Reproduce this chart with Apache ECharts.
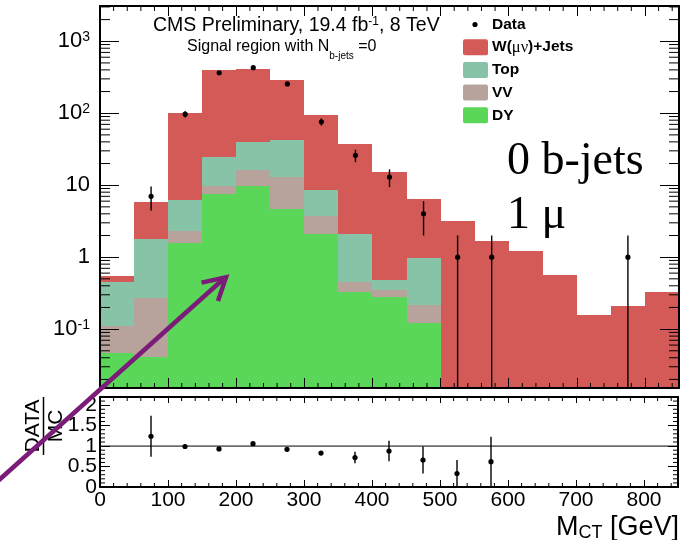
<!DOCTYPE html>
<html>
<head>
<meta charset="utf-8">
<script src="https://cdn.jsdelivr.net/npm/echarts@6/dist/echarts.min.js"></script>
<style>
  html, body { margin: 0; padding: 0; background: #ffffff; }
  #chart { width: 681px; height: 540px; }
</style>
</head>
<body>
<div id="chart"></div>
<script>
// M_CT bin edges in GeV (17 bins of 50 GeV)
const binEdges = [0, 50, 100, 150, 200, 250, 300, 350, 400, 450, 500, 550, 600, 650, 700, 750, 800, 850];

// Expected yields per bin, stacked bottom to top: DY, VV, Top, W(mu nu)+Jets
const dyYield    = [0.046, 0.041, 1.55, 7.57, 9.87, 4.64, 2.11, 0.327, 0.278, 0.120, 0, 0, 0, 0, 0, 0, 0];
const vvYield    = [0.065, 0.229, 0.77, 2.30, 6.63, 8.16, 1.67, 0.131, 0.073, 0.096, 0, 0, 0, 0, 0, 0, 0];
const topYield   = [0.339, 1.51, 3.93, 14.8, 23.8, 29.8, 4.91, 1.65, 0.133, 0.762, 0, 0, 0, 0, 0, 0, 0];
const wjetsYield = [0.100, 4.03, 93.8, 380, 372, 244, 86.0, 35.0, 14.9, 5.41, 3.22, 1.70, 1.22, 0.562, 0.155, 0.211, 0.330];

// Observed events and their uncertainties (null = empty bin)
const dataCounts = [null, 7, 97, 365, 430, 255, 76, 26, 13, 4, 1, 1, null, null, null, 1, null];
const dataErr    = [null, 2.6, 9.8, 19, 21, 16, 8.7, 5.1, 3.6, 2.0, 1.0, 1.0, null, null, null, 1.0, null];

// DATA / MC ratio and its uncertainty
const ratioVals = [null, 1.24, 0.99, 0.93, 1.06, 0.92, 0.83, 0.72, 0.88, 0.66, 0.33, 0.62, null, null, null, null, null];
const ratioErr  = [null, 0.50, 0.06, 0.03, 0.03, 0.03, 0.05, 0.14, 0.25, 0.33, 0.33, 0.61, null, null, null, null, null];

// Tick labels
const xTickLabels = ['0', '100', '200', '300', '400', '500', '600', '700', '800'];
const ratioTickLabels = ['0', '0.5', '1', '1.5', '2'];
const logTickExponents = [-1, 0, 1, 2, 3];

const FONT = '"Liberation Sans", Arial, Helvetica, sans-serif';
const SERIF = '"Liberation Serif", "Times New Roman", serif';
const yMin = 0.0152, yMax = 3090;
const xMin = 0, xMax = 850;
const rMin = 0, rMax = 2.2;

const layers = [
  { name: 'DY', values: dyYield, color: '#5ad658' },
  { name: 'VV', values: vvYield, color: '#b7a39b' },
  { name: 'Top', values: topYield, color: '#87c3a7' },
  { name: 'W(μν)+Jets', values: wjetsYield, color: '#d45a57' }
];

// Stack the backgrounds bin by bin
const running = binEdges.slice(0, -1).map(() => 0);
const stackSeries = layers.map(layer => {
  const items = layer.values.map((v, i) => {
    const b = running[i];
    const t = b + v;
    running[i] = t;
    return [binEdges[i], binEdges[i + 1], b, t];
  });
  return {
    type: 'custom', name: layer.name, xAxisIndex: 0, yAxisIndex: 0, z: 2,
    silent: true, animation: false,
    encode: { x: [0, 1], y: [3] },
    data: items,
    renderItem: (params, api) => {
      const lo = api.value(0), hi = api.value(1), b = api.value(2), t = api.value(3);
      if (!(t > b) || t <= yMin) return;
      const p0 = api.coord([lo, Math.min(t, yMax)]);
      const p1 = api.coord([hi, Math.max(b, yMin)]);
      // snap to whole pixels so neighbouring bins and layers meet without seams
      const x0 = Math.round(p0[0]), x1 = Math.round(p1[0]);
      const y0 = Math.round(p0[1]), y1 = Math.round(p1[1]);
      return {
        type: 'rect',
        shape: { x: x0, y: y0, width: x1 - x0, height: y1 - y0 },
        style: { fill: layer.color }
      };
    }
  };
});

function pointsWithErrors(vals, errs, lowClamp, highClamp, xIdx, yIdx) {
  const items = [];
  vals.forEach((v, i) => {
    if (v == null) return;
    items.push([(binEdges[i] + binEdges[i + 1]) / 2, v, errs[i]]);
  });
  return {
    type: 'custom', xAxisIndex: xIdx, yAxisIndex: yIdx, z: 8,
    silent: true, animation: false,
    encode: { x: 0, y: 1 },
    data: items,
    renderItem: (params, api) => {
      const x = api.value(0), v = api.value(1), e = api.value(2);
      const c = api.coord([x, v]);
      const up = api.coord([x, Math.min(v + e, highClamp)]);
      const dn = api.coord([x, Math.max(v - e, lowClamp)]);
      return {
        type: 'group',
        children: [
          { type: 'line', shape: { x1: c[0], y1: up[1], x2: c[0], y2: dn[1] }, style: { stroke: '#000', lineWidth: 1.4 } },
          { type: 'circle', shape: { cx: c[0], cy: c[1], r: 2.6 }, style: { fill: '#000' } }
        ]
      };
    }
  };
}

// Minor tick marks drawn on all four sides of a panel
function minorTickSeries(xIdx, yIdx, xVals, yVals, lenX, lenY, xRef, yRef) {
  const data = xVals.map(v => [0, v]).concat(yVals.map(v => [1, v]));
  return {
    type: 'custom', xAxisIndex: xIdx, yAxisIndex: yIdx, z: 7,
    silent: true, animation: false,
    data: data,
    renderItem: (params, api) => {
      const kind = api.value(0), v = api.value(1);
      const cs = params.coordSys;
      const st = { stroke: '#000', lineWidth: 1 };
      if (kind === 0) {
        const px = api.coord([v, yRef])[0];
        return { type: 'group', children: [
          { type: 'line', shape: { x1: px, y1: cs.y + cs.height, x2: px, y2: cs.y + cs.height - lenX }, style: st },
          { type: 'line', shape: { x1: px, y1: cs.y, x2: px, y2: cs.y + lenX }, style: st }
        ] };
      }
      const py = api.coord([xRef, v])[1];
      return { type: 'group', children: [
        { type: 'line', shape: { x1: cs.x, y1: py, x2: cs.x + lenY, y2: py }, style: st },
        { type: 'line', shape: { x1: cs.x + cs.width, y1: py, x2: cs.x + cs.width - lenY, y2: py }, style: st }
      ] };
    }
  };
}

const xMinor = [];
for (let v = 20; v < xMax; v += 20) if (v % 100 !== 0) xMinor.push(v);
const logMinor = [];
for (let k = -2; k <= 3; k++) for (let m = 2; m <= 9; m++) {
  const v = m * Math.pow(10, k);
  if (v > yMin && v < yMax) logMinor.push(v);
}
const ratioMinor = [];
for (let i = 1; i <= 21; i++) if (i % 5 !== 0) ratioMinor.push(i / 10);

const axisLineStyle = { color: '#000', width: 2 };
const tickStyle = { color: '#000', width: 1 };

function xAxisDef(gridIndex, position, tickLen, showLabels) {
  return {
    type: 'value', gridIndex: gridIndex, position: position, min: xMin, max: xMax, interval: 100, z: 6,
    axisLine: { show: true, onZero: false, lineStyle: axisLineStyle },
    axisTick: { show: true, inside: true, length: tickLen, lineStyle: tickStyle },
    splitLine: { show: false },
    axisLabel: {
      show: showLabels, color: '#000', fontFamily: FONT, fontSize: 21, lineHeight: 21, margin: 3,
      showMinLabel: true, hideOverlap: false,
      formatter: v => (xTickLabels.indexOf(String(v)) >= 0 ? String(v) : '')
    }
  };
}

const supRich = {
  b: { fontFamily: FONT, fontSize: 22, lineHeight: 22, color: '#000', verticalAlign: 'middle' },
  s: { fontFamily: FONT, fontSize: 14, lineHeight: 12, color: '#000', verticalAlign: 'top' }
};

function logLabel(v) {
  const e = Math.round(Math.log10(v));
  if (logTickExponents.indexOf(e) < 0) return '';
  if (Math.abs(v - Math.pow(10, e)) / Math.pow(10, e) > 1e-6) return '';
  if (e === 0) return '{b|1}';
  if (e === 1) return '{b|10}';
  return '{b|10}{s|' + e + '}';
}

function logAxisDef(position, showLabels) {
  return {
    type: 'log', logBase: 10, gridIndex: 0, position: position, min: yMin, max: yMax, z: 6,
    axisLine: { show: true, onZero: false, lineStyle: axisLineStyle },
    axisTick: { show: true, inside: true, length: 19, lineStyle: tickStyle },
    splitLine: { show: false },
    minorTick: { show: false },
    axisLabel: { show: showLabels, margin: 10, formatter: logLabel, rich: supRich, showMinLabel: true, showMaxLabel: true }
  };
}

// Ratio axis: labels at 0.5 steps except the bottom one, which a label-only axis supplies
function ratioAxisDef(position, showLabels) {
  return {
    type: 'value', gridIndex: 1, position: position, min: rMin, max: rMax, interval: 0.5, z: 6,
    axisLine: { show: true, onZero: false, lineStyle: axisLineStyle },
    axisTick: { show: true, inside: true, length: 10, lineStyle: tickStyle },
    splitLine: { show: false },
    axisLabel: {
      show: showLabels, color: '#000', fontFamily: FONT, fontSize: 21, lineHeight: 14, margin: 3,
      showMinLabel: false, hideOverlap: false,
      formatter: v => (v !== rMin && ratioTickLabels.indexOf(String(v)) >= 0 ? String(v) : '')
    }
  };
}
const ratioZeroLabelAxis = {
  type: 'value', gridIndex: 1, position: 'left', min: rMin, max: rMax, interval: 1, z: 6,
  axisLine: { show: false, onZero: false }, axisTick: { show: false }, splitLine: { show: false },
  axisLabel: {
    show: true, color: '#000', fontFamily: FONT, fontSize: 21, lineHeight: 14, margin: 3,
    showMinLabel: true,
    formatter: v => (v === rMin ? ratioTickLabels[0] : '')
  }
};

const legendRows = [
  { label: 'Data', dot: true },
  { label: '{b|W(}{g|μν}{b|)+Jets}', color: '#d45a57' },
  { label: '{b|Top}', color: '#87c3a7' },
  { label: '{b|VV}', color: '#b7a39b' },
  { label: '{b|DY}', color: '#5ad658' }
];
const legendRich = {
  b: { fontFamily: FONT, fontWeight: 'bold', fontSize: 15.5, fill: '#000', verticalAlign: 'middle' },
  g: { fontFamily: SERIF, fontWeight: 'normal', fontSize: 16.5, fill: '#000', verticalAlign: 'middle' }
};
const legendGraphics = [];
legendRows.forEach((row, i) => {
  const cy = 24.5 + i * 22.7;
  if (row.dot) {
    legendGraphics.push({ type: 'circle', shape: { cx: 475, cy: cy, r: 2.6 }, style: { fill: '#000' }, z: 50 });
    legendGraphics.push({ type: 'text', x: 492, y: cy, z: 50,
      style: { text: '{b|Data}', rich: legendRich, align: 'left', verticalAlign: 'middle' } });
  } else {
    legendGraphics.push({ type: 'rect', shape: { x: 463, y: cy - 8, width: 25, height: 16, r: 2 }, style: { fill: row.color }, z: 50 });
    legendGraphics.push({ type: 'text', x: 492, y: cy, z: 50,
      style: { text: row.label, rich: legendRich, align: 'left', verticalAlign: 'middle' } });
  }
});

const option = {
  animation: false,
  backgroundColor: '#ffffff',
  textStyle: { fontFamily: FONT },
  grid: [
    { left: 100, top: 6, width: 579, height: 382, containLabel: false },
    { left: 100, top: 397, width: 579, height: 90, containLabel: false }
  ],
  xAxis: [
    xAxisDef(0, 'bottom', 10, false),
    xAxisDef(0, 'top', 10, false),
    xAxisDef(1, 'bottom', 7, true),
    xAxisDef(1, 'top', 6, false)
  ],
  yAxis: [
    logAxisDef('left', true),
    logAxisDef('right', false),
    ratioAxisDef('left', true),
    ratioAxisDef('right', false),
    ratioZeroLabelAxis
  ],
  series: [
    ...stackSeries,
    pointsWithErrors(dataCounts, dataErr, yMin, yMax, 0, 0),
    minorTickSeries(0, 0, xMinor, logMinor, 5, 10, 425, 1),
    {
      type: 'line', xAxisIndex: 2, yAxisIndex: 2, z: 4, silent: true, animation: false,
      symbol: 'none', data: [[xMin, 1], [xMax, 1]], lineStyle: { color: '#000', width: 1 }
    },
    pointsWithErrors(ratioVals, ratioErr, rMin, rMax, 2, 2),
    minorTickSeries(2, 2, xMinor, ratioMinor, 4, 5, 425, 1)
  ],
  graphic: [
    { type: 'text', x: 153, y: 25.2, z: 50,
      style: {
        text: '{a|CMS Preliminary, 19.4 fb}{s|-1}{a|, 8 TeV}', align: 'left', verticalAlign: 'middle',
        rich: {
          a: { fontFamily: FONT, fontSize: 19.5, lineHeight: 19, fill: '#000', verticalAlign: 'middle' },
          s: { fontFamily: FONT, fontSize: 12, lineHeight: 10, fill: '#000', verticalAlign: 'top' }
        }
      } },
    { type: 'text', x: 187, y: 46.2, z: 50,
      style: {
        text: '{a|Signal region with N}{s|b-jets}{a| =0}', align: 'left', verticalAlign: 'middle',
        rich: {
          a: { fontFamily: FONT, fontSize: 16, lineHeight: 30, fill: '#000', verticalAlign: 'middle' },
          s: { fontFamily: FONT, fontSize: 10, lineHeight: 6, fill: '#000', verticalAlign: 'bottom' }
        }
      } },
    ...legendGraphics,
    { type: 'text', x: 507, y: 161.5, z: 50,
      style: { text: '0 b-jets', fontFamily: SERIF, fontSize: 46, fill: '#000', align: 'left', verticalAlign: 'middle' } },
    { type: 'text', x: 507, y: 216.2, z: 50,
      style: { text: '1 μ', fontFamily: SERIF, fontSize: 46, fill: '#000', align: 'left', verticalAlign: 'middle' } },
    // ratio axis title: DATA over MC, rotated
    { type: 'group', x: 43.5, y: 426, rotation: Math.PI / 2, z: 50,
      children: [
        { type: 'text', x: 0, y: -10, style: { text: 'DATA', fontFamily: FONT, fontSize: 21, fill: '#000', align: 'center', verticalAlign: 'middle' } },
        { type: 'text', x: 0, y: 13, style: { text: 'MC', fontFamily: FONT, fontSize: 21, fill: '#000', align: 'center', verticalAlign: 'middle' } },
        { type: 'line', shape: { x1: -29, y1: 0, x2: 29, y2: 0 }, style: { stroke: '#000', lineWidth: 1.5 } }
      ] },
    // x axis title
    { type: 'text', x: 679, y: 527.3, z: 50,
      style: {
        text: '{m|M}{s|CT}{m| [GeV]}', align: 'right', verticalAlign: 'middle',
        rich: {
          m: { fontFamily: FONT, fontSize: 27, lineHeight: 30, fill: '#000', verticalAlign: 'middle' },
          s: { fontFamily: FONT, fontSize: 18, lineHeight: 8, fill: '#000', verticalAlign: 'bottom' }
        }
      } },
    // purple arrow
    { type: 'polyline', z: 60, shape: { points: [[-6, 484.5], [224, 278.5]] },
      style: { stroke: '#7a1c78', lineWidth: 4.5, fill: null } },
    { type: 'polyline', z: 60, shape: { points: [[201.5, 282.6], [226, 277.3], [218, 301]] },
      style: { stroke: '#7a1c78', lineWidth: 4.5, fill: null, lineJoin: 'miter' } }
  ]
};

const chart = echarts.init(document.getElementById('chart'), null, { renderer: 'canvas' });
chart.setOption(option);
</script>
</body>
</html>
